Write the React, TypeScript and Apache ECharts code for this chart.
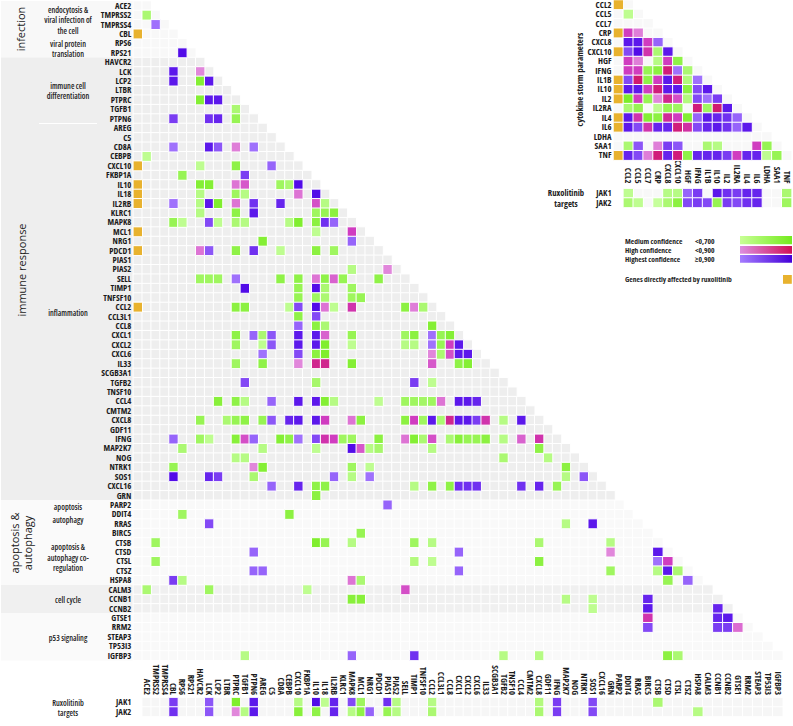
import React, { useEffect, useRef } from "react";
import * as echarts from "echarts";

const LABEL_FONT = '"Open Sans",sans-serif';
const SIDE_FONT = '"Open Sans",sans-serif';
const NARROW_BOLD = "bold condensed";

const genes = ["ACE2","TMPRSS2","TMPRSS4","CBL","RPS6","RPS21","HAVCR2","LCK","LCP2","LTBR","PTPRC","TGFB1","PTPN6","AREG","C5","CD8A","CEBPB","CXCL10","FKBP1A","IL10","IL18","IL2RB","KLRC1","MAPK8","MCL1","NRG1","PDCD1","PIAS1","PIAS2","SELL","TIMP1","TNFSF10","CCL2","CCL3L1","CCL8","CXCL1","CXCL2","CXCL6","IL33","SCGB3A1","TGFB2","TNSF10","CCL4","CMTM2","CXCL8","GDF11","IFNG","MAP2K7","NOG","NTRK1","SOS1","CXCL16","GRN","PARP2","DDIT4","RRAS","BIRC5","CTSB","CTSD","CTSL","CTSZ","HSPA8","CALM3","CCNB1","CCNB2","GTSE1","RRM2","STEAP3","TP53I3","IGFBP3"];
const directGenes = ["CBL","CXCL10","IL10","IL18","IL2RB","MCL1","PDCD1","CCL2"];

type Row = [string, [number, number][]];

const infectionLinks: Row[] = [
  ["TMPRSS2", [[0,.55]]],
  ["TMPRSS4", [[1,.91]]],
  ["RPS21", [[4,.99]]],
];
const differentiationLinks: Row[] = [
  ["LCK", [[3,.98],[6,.72]]],
  ["LCP2", [[3,.98],[6,.65],[7,.98]]],
  ["PTPRC", [[6,.65],[7,.98],[8,.98]]],
  ["TGFB1", [[10,.55]]],
  ["PTPN6", [[3,.95],[7,.96],[8,.97],[10,.6]]],
];
const inflammationLinks: Row[] = [
  ["CD8A", [[3,.91],[7,.98],[8,.93],[10,.73],[12,.91]]],
  ["CEBPB", [[0,.5]]],
  ["CXCL10", [[6,.5],[10,.62],[14,.92]]],
  ["FKBP1A", [[4,.6],[11,.95]]],
  ["IL10", [[6,.65],[7,.65],[10,.74],[11,.77],[15,.58],[16,.55],[17,.99]]],
  ["IL18", [[6,.52],[10,.58],[11,.52],[17,.74],[19,.99]]],
  ["IL2RB", [[3,.91],[6,.52],[7,.98],[8,.66],[10,.74],[12,.96],[15,.97],[19,.78],[20,.52]]],
  ["KLRC1", [[6,.52],[10,.62],[12,.98],[19,.58],[20,.6],[21,.63]]],
  ["MAPK8", [[3,.6],[4,.5],[7,.94],[8,.5],[10,.55],[11,.52],[16,.52],[17,.66],[19,.63],[20,.96],[21,.92]]],
  ["MCL1", [[19,.5],[23,.8]]],
  ["NRG1", [[13,.65],[23,.92]]],
  ["PDCD1", [[6,.74],[7,.93],[10,.62],[12,.96],[15,.5],[19,.63],[21,.58]]],
  ["PIAS2", [[23,.52],[27,.72]]],
  ["SELL", [[6,.58],[7,.58],[8,.58],[10,.91],[15,.62],[17,.62],[19,.74],[20,.62],[21,.76],[22,.6],[26,.62]]],
  ["TIMP1", [[11,.99],[17,.6],[19,.99],[20,.55],[23,.58]]],
  ["TNFSF10", [[17,.6],[19,.58],[20,.55],[23,.58],[24,.6]]],
  ["CCL2", [[10,.63],[11,.63],[16,.5],[17,.94],[19,.99],[20,.74],[21,.5],[23,.82],[29,.63],[30,.73],[31,.55]]],
  ["CCL3L1", [[17,.62],[19,.94]]],
  ["CCL8", [[17,.92],[19,.63],[20,.55],[32,.65]]],
  ["CXCL1", [[10,.62],[12,.92],[13,.55],[14,.93],[17,.98],[19,.98],[20,.76],[23,.6],[29,.58],[30,.63],[32,.91],[33,.6],[34,.65]]],
  ["CXCL2", [[10,.58],[13,.5],[14,.93],[17,.98],[19,.98],[20,.66],[23,.5],[29,.52],[30,.52],[32,.91],[33,.6],[34,.8],[35,.98]]],
  ["CXCL6", [[13,.91],[17,.94],[19,.63],[20,.66],[32,.72],[33,.55],[34,.78],[35,.98],[36,.98]]],
  ["IL33", [[10,.58],[13,.62],[17,.72],[19,.85],[20,.85],[23,.65],[32,.77],[35,.62],[36,.65]]],
  ["TGFB2", [[11,.94],[19,.56],[30,.95],[32,.5]]],
  ["CCL4", [[8,.64],[10,.62],[11,.52],[14,.92],[17,.98],[19,.98],[20,.65],[21,.52],[26,.5],[29,.58],[30,.58],[31,.57],[32,.58],[33,.74],[35,.98],[36,.98],[37,.97]]],
  ["CXCL8", [[6,.6],[9,.55],[10,.6],[11,.62],[13,.6],[14,.93],[16,.97],[17,.98],[19,.98],[20,.8],[23,.74],[24,.63],[29,.63],[30,.8],[31,.58],[32,.98],[33,.55],[34,.85],[35,.98],[36,.98],[37,.95],[38,.82],[40,.52],[42,.98]]],
  ["IFNG", [[3,.92],[6,.58],[7,.5],[10,.64],[11,.78],[12,.92],[15,.65],[16,.62],[17,.91],[19,.94],[20,.82],[21,.8],[22,.58],[23,.58],[26,.63],[29,.74],[30,.65],[31,.55],[32,.78],[34,.55],[35,.64],[36,.6],[37,.6],[38,.63],[40,.52],[42,.76],[44,.82]]],
  ["MAP2K7", [[4,.55],[13,.52],[19,.5],[23,.99],[24,.77],[25,.52],[26,.56],[32,.52],[44,.62]]],
  ["NOG", [[10,.52],[11,.52],[40,.55],[45,.52]]],
  ["NTRK1", [[3,.6],[12,.72],[13,.65],[23,.58],[25,.5],[47,.63]]],
  ["SOS1", [[3,.99],[7,.97],[8,.95],[12,.55],[21,.92],[23,.52],[25,.91],[47,.52],[49,.93]]],
  ["CXCL16", [[14,.92],[17,.97],[19,.62],[20,.62],[30,.52],[32,.62],[34,.62],[35,.96],[36,.96],[37,.96],[42,.96],[44,.97],[46,.6]]],
  ["GRN", [[19,.63]]],
];
const apoptosisLinks: Row[] = [
  ["PARP2", [[27,.92]]],
  ["DDIT4", [[4,.58],[16,.63]]],
  ["RRAS", [[7,.94],[47,.52],[50,.98]]],
  ["BIRC5", [[24,.6]]],
  ["CTSB", [[1,.58],[19,.66],[20,.6],[23,.52],[30,.58],[32,.52],[44,.55],[52,.52]]],
  ["CTSD", [[12,.92],[35,.92],[52,.72],[57,.98]]],
  ["CTSL", [[1,.58],[30,.53],[32,.5],[44,.63],[57,.91],[58,.8]]],
  ["CTSZ", [[12,.92],[13,.92],[35,.92],[52,.58],[57,.52],[58,.98],[59,.55]]],
  ["HSPA8", [[3,.95],[4,.52],[23,.74],[24,.55],[58,.6],[60,.92]]],
];
const cycleLinks: Row[] = [
  ["CALM3", [[0,.55],[7,.58],[18,.5],[29,.78]]],
  ["CCNB1", [[23,.64],[24,.64],[47,.52],[50,.5],[56,.97]]],
  ["CCNB2", [[50,.5],[56,.98],[63,.97]]],
];
const p53Links: Row[] = [
  ["GTSE1", [[56,.82],[63,.97],[64,.98]]],
  ["RRM2", [[56,.94],[63,.95],[64,.95],[65,.75]]],
  ["IGFBP3", [[11,.52],[23,.92],[30,.96],[40,.52],[44,.52],[58,.63],[59,.55]]],
];
const jakRows = ["JAK1", "JAK2"];
const jakLinks: Row[] = [
  ["JAK1", [[3,.95],[7,.93],[10,.66],[12,.98],[17,.52],[19,.99],[20,.5],[21,.97],[23,.94],[24,.58],[27,.96],[28,.52],[32,.52],[44,.53],[46,.95],[50,.94],[57,.55]]],
  ["JAK2", [[3,.96],[7,.93],[10,.72],[11,.52],[12,.98],[17,.64],[19,.62],[21,.97],[23,.52],[24,.62],[25,.92],[27,.6],[28,.52],[32,.55],[44,.55],[46,.95],[50,.94],[61,.52]]],
];

const cytokines = ["CCL2","CCL5","CCL7","CRP","CXCL8","CXCL10","HGF","IFNG","IL1B","IL10","IL2","IL2RA","IL4","IL6","LDHA","SAA1","TNF"];
const directCytokines = ["CCL2","CRP","CXCL10","IL1B","IL10","IL2","IL4","IL6","TNF"];
const cytokineLinks: Row[] = [
  ["CCL5", [[0,.5]]],
  ["CRP", [[0,.8],[1,.73]]],
  ["CXCL8", [[0,.98],[1,.98],[2,.8],[3,.92]]],
  ["CXCL10", [[0,.94],[1,.99],[2,.82],[3,.55],[4,.98]]],
  ["HGF", [[0,.8],[1,.73],[3,.52],[4,.8],[5,.62]]],
  ["IFNG", [[0,.8],[1,.8],[2,.6],[3,.63],[4,.87],[5,.91],[6,.55]]],
  ["IL1B", [[0,.94],[1,.88],[2,.62],[3,.8],[4,.98],[5,.87],[6,.53],[7,.91]]],
  ["IL10", [[0,.98],[1,.98],[2,.8],[3,.87],[4,.98],[5,.98],[6,.63],[7,.94],[8,.98]]],
  ["IL2", [[0,.67],[1,.8],[2,.6],[3,.72],[4,.85],[5,.78],[6,.53],[7,.94],[8,.91],[9,.95]]],
  ["IL2RA", [[0,.55],[1,.6],[3,.5],[4,.6],[5,.58],[7,.87],[8,.58],[9,.88],[10,.98]]],
  ["IL4", [[0,.98],[1,.82],[2,.65],[3,.63],[4,.84],[5,.8],[6,.65],[7,.92],[8,.98],[9,.97],[10,.96],[11,.92]]],
  ["IL6", [[0,.98],[1,.94],[2,.82],[3,.97],[4,.97],[5,.87],[6,.83],[7,.94],[8,.97],[9,.98],[10,.96],[11,.92],[12,.98]]],
  ["SAA1", [[0,.55],[1,.93],[3,.73],[4,.95],[5,.93],[8,.55],[9,.52],[13,.8],[14,.6]]],
  ["TNF", [[0,.97],[1,.94],[2,.73],[3,.87],[4,.97],[5,.87],[6,.62],[7,.97],[8,.97],[9,.97],[10,.95],[11,.8],[12,.97],[13,.97],[14,.5],[15,.6]]],
];
const cytokineJakLinks: Row[] = [
  ["JAK1", [[0,.5],[4,.52],[5,.52],[6,.92],[7,.95],[9,.98],[10,.96],[11,.95],[12,.97],[13,.97],[16,.55]]],
  ["JAK2", [[0,.55],[1,.5],[3,.48],[4,.55],[5,.63],[6,.94],[7,.95],[8,.94],[9,.6],[10,.95],[11,.94],[12,.96],[13,.97],[16,.58]]],
];

const YELLOW = "#e8b22e";
const hex = (c: string) => [1, 3, 5].map((i) => parseInt(c.slice(i, i + 2), 16));
function mix(stops: [number, string][], s: number) {
  for (let i = 0; i < stops.length - 1; i++) {
    const [a, ca] = stops[i];
    const [b, cb] = stops[i + 1];
    if (s <= b || i === stops.length - 2) {
      const t = Math.max(0, Math.min(1, (s - a) / (b - a)));
      const A = hex(ca), B = hex(cb);
      return `rgb(${A.map((v, k) => Math.round(v + (B[k] - v) * t)).join(",")})`;
    }
  }
  return "#000";
}
const GREEN: [number, string][] = [[0.48, "#c6ff9c"], [0.68, "#78ec22"]];
const PINK: [number, string][] = [[0.7, "#e59ae2"], [0.8, "#d03cc0"], [0.9, "#d0105c"]];
const PURPLE: [number, string][] = [[0.9, "#a87eff"], [0.95, "#7a3cf2"], [1, "#4800e6"]];
const colorOf = (s: number) => (s < 0.7 ? mix(GREEN, s) : s < 0.9 ? mix(PINK, s) : mix(PURPLE, s));

// Codes below 0.4 are not scores: they mark background tints and the "directly affected" flag.
const T_PALE = 0.11, T_GREY = 0.12, T_APOP = 0.13, T_CYCLE = 0.14, T_JAK = 0.15, T_SIDE = 0.16, FLAG = 0.3;
const tintPieces: [number, string][] = [
  [T_PALE, "#f8f8f8"], [T_GREY, "#eeeeee"], [T_APOP, "#f9f9f9"], [T_CYCLE, "#f0f0f0"],
  [T_JAK, "#f6f6f6"], [T_SIDE, "#f8f8f8"], [FLAG, YELLOW],
];
const pieces: any[] = [
  ...tintPieces.map(([v, color]) => ({ min: v - 0.004, max: v + 0.004, color })),
];
for (let i = 45; i <= 100; i++) {
  const s = i / 100;
  pieces.push({ min: s - 0.004, max: s + 0.004, color: colorOf(s) });
}

const sectionTint = (r: number) =>
  r < 6 ? T_PALE : r < 53 ? T_GREY : r < 62 ? T_APOP : r < 65 ? T_CYCLE : T_APOP;

const allLinks = [...infectionLinks, ...differentiationLinks, ...inflammationLinks, ...apoptosisLinks, ...cycleLinks, ...p53Links];

export default function App() {
  const ref = useRef<HTMLDivElement>(null);
  useEffect(() => {
    const chart = echarts.init(ref.current!, undefined, { renderer: "svg" });
    const SPLIT = 55; // columns from here on sit in the wider right-hand grid
    const colsA = ["", ...genes.slice(0, SPLIT)];
    const colsB = genes.slice(SPLIT);
    const place = (c: number) => (c < SPLIT ? { g: 0, x: c + 1 } : { g: 1, x: c - SPLIT });

    const mainBg: number[][][] = [[], []];
    const mainFg: number[][][] = [[], []];
    genes.forEach((row, r) => {
      const tint = sectionTint(r);
      mainBg[0].push([0, r, tint]);
      for (let c = 0; c <= r; c++) {
        const p = place(c);
        mainBg[p.g].push([p.x, r, tint]);
      }
      if (directGenes.includes(row)) mainFg[0].push([0, r, FLAG]);
    });
    allLinks.forEach(([row, list]) => {
      const r = genes.indexOf(row);
      list.forEach(([c, s]) => {
        const p = place(c);
        mainFg[p.g].push([p.x, r, s]);
      });
    });

    const jakBg: number[][][] = [[], []];
    const jakFg: number[][][] = [[], []];
    jakRows.forEach((_, r) => {
      genes.forEach((__, c) => {
        const p = place(c);
        jakBg[p.g].push([p.x, r, T_JAK]);
      });
    });
    jakLinks.forEach(([row, list]) => {
      const r = jakRows.indexOf(row);
      list.forEach(([c, s]) => {
        const p = place(c);
        jakFg[p.g].push([p.x, r, s]);
      });
    });

    const sideBg: number[][] = [];
    const sideFg: number[][] = [];
    cytokines.forEach((row, r) => {
      sideBg.push([0, r, T_SIDE]);
      for (let c = 0; c <= r; c++) sideBg.push([c + 1, r, T_SIDE]);
      if (directCytokines.includes(row)) sideFg.push([0, r, FLAG]);
    });
    cytokineLinks.forEach(([row, list]) => {
      const r = cytokines.indexOf(row);
      list.forEach(([c, s]) => sideFg.push([c + 1, r, s]));
    });
    const sideJakBg: number[][] = [];
    const sideJakFg: number[][] = [];
    jakRows.forEach((_, r) => cytokines.forEach((__, c) => sideJakBg.push([c + 1, r, T_SIDE])));
    cytokineJakLinks.forEach(([row, list]) => {
      const r = jakRows.indexOf(row);
      list.forEach(([c, s]) => sideJakFg.push([c + 1, r, s]));
    });

    const label = { fontFamily: LABEL_FONT, fontWeight: "bold" as any, fontSize: 8.6, color: "#1c1c1c", interval: 0 };
    const bare = { axisLine: { show: false }, axisTick: { show: false }, splitLine: { show: false } };
    const hiddenX = (data: string[], gridIndex: number) => ({ type: "category", data, gridIndex, show: false });
    const labelledX = (data: string[], gridIndex: number, margin: number) => ({
      type: "category", data, gridIndex, position: "top", ...bare,
      axisLabel: { ...label, rotate: 90, margin },
    });
    const Y = (data: string[], gridIndex: number, show: boolean) => ({
      type: "category", data, gridIndex, inverse: true, ...bare,
      axisLabel: { ...label, show, margin: 2 },
    });
    const heat = (idx: number, data: any[], z: number) => ({
      type: "heatmap", xAxisIndex: idx, yAxisIndex: idx, data, z, progressive: 0, silent: true,
      itemStyle: { borderColor: "#ffffff", borderWidth: 1 },
      emphasis: { disabled: true },
    });

    const t = (text: string, x: number, y: number, size = 8, extra: any = {}) => ({
      type: "text", x, y, silent: true, rotation: extra.rotation || 0,
      style: {
        text, fill: "#222222", textAlign: extra.align || "center", textVerticalAlign: "middle",
        font: `${extra.weight || "600 condensed"} ${size}px ${extra.family || SIDE_FONT}`,
      },
    });
    const band = (y: number, h: number, fill: string, x = 1, w = 132.3) => ({
      type: "rect", z: -1, silent: true, shape: { x, y, width: w, height: h }, style: { fill },
    });
    const gradient = (a: string, b: string) =>
      new echarts.graphic.LinearGradient(0, 0, 1, 0, [{ offset: 0, color: a }, { offset: 1, color: b }]);
    const legendRect = (y: number, h: number, a: string, b: string) => ({
      type: "rect", silent: true, shape: { x: 740, y, width: 52, height: h }, style: { fill: gradient(a, b) },
    });
    const ROT = Math.PI / 2;
    const BOLD = { family: LABEL_FONT, weight: NARROW_BOLD };
    const LEG = { align: "left", ...BOLD };
    const series = [
      heat(0, mainBg[0], 2), heat(1, mainBg[1], 2),
      heat(0, mainFg[0], 3), heat(1, mainFg[1], 3),
      heat(2, jakBg[0], 2), heat(3, jakBg[1], 2),
      heat(2, jakFg[0], 3), heat(3, jakFg[1], 3),
      heat(4, sideBg, 2), heat(4, sideFg, 3),
      heat(5, sideJakBg, 2), heat(5, sideJakFg, 3),
    ];

    chart.setOption({
      animation: false,
      tooltip: { show: false },
      visualMap: { type: "piecewise", show: false, dimension: 2, seriesIndex: series.map((_, i) => i), pieces },
      grid: [
        { left: 133.32, top: 1, width: 499.52, height: 659.4 },
        { left: 632.84, top: 1, width: 150, height: 659.4 },
        { left: 133.32, top: 697.6, width: 499.52, height: 18.84 },
        { left: 632.84, top: 697.6, width: 150, height: 18.84 },
        { left: 613.45, top: 0, width: 178.2, height: 160.14 },
        { left: 613.45, top: 188.6, width: 178.2, height: 18.84 },
      ],
      xAxis: [
        hiddenX(colsA, 0), hiddenX(colsB, 1),
        labelledX(colsA, 2, 2.5), labelledX(colsB, 3, 2.5),
        hiddenX(["", ...cytokines], 4),
        labelledX(["", ...cytokines], 5, 5),
      ],
      yAxis: [
        Y(genes, 0, true), Y(genes, 1, false),
        Y(jakRows, 2, true), Y(jakRows, 3, false),
        Y(cytokines, 4, true), Y(jakRows, 5, true),
      ],
      series,
      graphic: {
        elements: [
          band(1, 56.5, "#f8f8f8"),
          band(57.5, 442.5, "#eeeeee"),
          band(500, 85, "#fafafa"),
          band(585, 28, "#f0f0f0"),
          band(613, 47.4, "#fafafa"),
          { type: "rect", silent: true, z: 1, shape: { x: 39, y: 122.9, width: 58, height: 1.2 }, style: { fill: "#ffffff" } },

          t("infection", 20.5, 29, 11, { rotation: ROT, weight: "500" }),
          t("immune response", 21, 270, 11, { rotation: ROT, weight: "500" }),
          t("apoptosis &", 14.5, 543, 11, { rotation: ROT, weight: "500" }),
          t("autophagy", 27.5, 543, 11, { rotation: ROT, weight: "500" }),

          t("endocytosis &", 68, 9), t("viral infection of", 68, 19.5), t("the cell", 68, 30),
          t("viral protein", 68, 43), t("translation", 68, 53.5),
          t("immune cell", 68, 85), t("differentiation", 68, 95.5),
          t("inflammation", 68, 312),
          t("apoptosis", 68, 506), t("autophagy", 68, 519),
          t("apoptosis &", 68, 546), t("autophagy co-", 68, 557), t("regulation", 68, 567.5),
          t("cell cycle", 68, 599.5), t("p53 signaling", 68, 637.5),
          t("Ruxolitinib", 68, 702), t("targets", 68, 712.5),

          t("cytokine storm parameters", 579, 79.5, 9, { rotation: ROT, ...BOLD }),
          t("Ruxolitinib", 566, 192.5, 8.6, BOLD),
          t("targets", 566, 204, 8.6, BOLD),

          t("Medium confidence", 625, 240.7, 7.5, LEG),
          t("High confidence", 625, 250, 7.5, LEG),
          t("Highest confidence", 625, 259.4, 7.5, LEG),
          t("<0,700", 695, 240.7, 7.5, LEG),
          t("<0,900", 695, 250, 7.5, LEG),
          t("≥0,900", 695, 259.4, 7.5, LEG),
          legendRect(236, 8.3, "#c8ff96", "#74ea1e"),
          legendRect(246, 7.8, "#dc8ee0", "#d01058"),
          legendRect(255, 7.8, "#a57cff", "#4400d8"),
          t("Genes directly affected by ruxolitinib", 625, 278.7, 7.5, LEG),
          { type: "rect", silent: true, shape: { x: 783, y: 275, width: 8.8, height: 8.8 }, style: { fill: YELLOW } },
        ],
      },
    } as any);
    return () => chart.dispose();
  }, []);
  return (
    <>
      <style>{`.narrow-labels text:not([style*="11px"]) { font-stretch: 75% !important; }`}</style>
      <div ref={ref} className="narrow-labels" style={{ position: "absolute", left: 0, top: 0, width: 793, height: 726 }} />
    </>
  );
}
